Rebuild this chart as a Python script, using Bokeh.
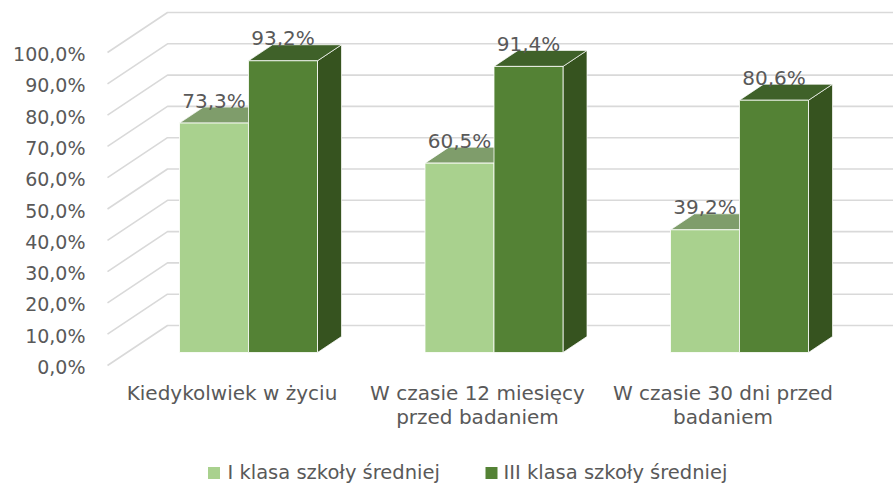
from bokeh.plotting import figure
from bokeh.models import Range1d
from bokeh.core.properties import value
from bokeh.embed import file_html
from bokeh.resources import INLINE

# ---------------- data ----------------
categories = ["Kiedykolwiek w życiu",
              "W czasie 12 miesięcy\nprzed badaniem",
              "W czasie 30 dni przed\nbadaniem"]
series_names = ["I klasa szkoły średniej", "III klasa szkoły średniej"]
values_klasa_i = [73.3, 60.5, 39.2]
values_klasa_iii = [93.2, 91.4, 80.6]
y_ticks = [0, 10, 20, 30, 40, 50, 60, 70, 80, 90, 100]
y_tick_labels = ["0,0%", "10,0%", "20,0%", "30,0%", "40,0%", "50,0%",
                 "60,0%", "70,0%", "80,0%", "90,0%", "100,0%"]

# ---------------- style / layout ----------------
W, H = 893, 485
M = 0                 # canvas origin in picture pixels
PX_X = 245.5          # pixels per category step
PX_Y = 3.13           # pixels per percent
CAT0_PX = 228.5       # picture x of first category (front plane)
ZERO_PY = 365         # picture y of 0 % (front plane)
FONT = value("DejaVu Sans")
TXT = "#595959"
GRID = "#D9D9D9"
BAR_W_PX = 69
BAR_D0, BAR_D1, WALL_D = 13, 29, 40

colors = [
    dict(front="#A9D18E", top="#7F9D6B", side="#6E8C5A"),
    dict(front="#548235", top="#3F6129", side="#36531F"),
]

x_start = -(CAT0_PX - M) / PX_X
x_end = x_start + W / PX_X
y_end = (ZERO_PY - M) / PX_Y
y_start = y_end - H / PX_Y


def px_to_x(px):
    return x_start + (px - M) / PX_X


def py_to_y(py):
    return y_end - (py - M) / PX_Y


def depth(x, y, d):
    return x + 1.5 * d / PX_X, y + d / PX_Y


p = figure(width=W, height=H, x_range=Range1d(x_start, x_end),
           y_range=Range1d(y_start, y_end), output_backend="svg",
           toolbar_location=None, min_border=0,
           x_axis_location=None, y_axis_location=None)
p.grid.visible = False
p.outline_line_color = None
p.background_fill_color = "white"
p.border_fill_color = "white"

# ---------------- gridlines (3D walls) ----------------
gxs, gys = [], []
for t in y_ticks:
    xa = px_to_x(107)
    xb, yb = depth(xa, t, WALL_D)
    gxs.append([xa, xb, x_end + 1])
    gys.append([t, yb, yb])
p.multi_line(gxs, gys, line_color=GRID, line_width=1.6)

# ---------------- bars ----------------
bw = BAR_W_PX / PX_X
label_x, label_y, label_t = [], [], []
for s, vals in enumerate([values_klasa_i, values_klasa_iii]):
    c = colors[s]
    fl, fr, fb, ft = [], [], [], []
    txs, tys, sxs, sys_ = [], [], [], []
    for i, v in enumerate(vals):
        xl = i + (s - 1) * bw
        xr = xl + bw
        x0, y0 = depth(xl, 0, BAR_D0)
        x1, y1 = depth(xr, v, BAR_D0)
        fl.append(x0); fr.append(x1); fb.append(y0); ft.append(y1)
        a = depth(xl, v, BAR_D0); b = depth(xr, v, BAR_D0)
        cc = depth(xr, v, BAR_D1); dd = depth(xl, v, BAR_D1)
        txs.append([a[0], b[0], cc[0], dd[0]]); tys.append([a[1], b[1], cc[1], dd[1]])
        e = depth(xr, 0, BAR_D0); f = depth(xr, 0, BAR_D1)
        sxs.append([e[0], b[0], cc[0], f[0]]); sys_.append([e[1], b[1], cc[1], f[1]])
        label_x.append((x0 + x1) / 2)
        label_y.append(v + (BAR_D1 + 6.5) / PX_Y)
        label_t.append(f"{v:.1f}".replace(".", ",") + "%")
    p.patches(sxs, sys_, fill_color=c["side"], line_color="white", line_width=1, line_alpha=0.7)
    p.patches(txs, tys, fill_color=c["top"], line_color="white", line_width=1, line_alpha=0.7)
    p.quad(left=fl, right=fr, bottom=fb, top=ft, fill_color=c["front"],
           line_color="white", line_width=1, line_alpha=0.8)

# ---------------- data labels ----------------
p.text(x=label_x, y=label_y, text=label_t, text_align="center",
       text_baseline="middle", text_font=FONT, text_font_size="20px",
       text_color=TXT)

# ---------------- y tick labels ----------------
p.text(x=[px_to_x(85)] * len(y_ticks), y=[t - 1.5 / PX_Y for t in y_ticks],
       text=y_tick_labels, text_align="right", text_baseline="middle",
       text_font=FONT, text_font_size="19px", text_color=TXT)

# ---------------- category labels ----------------
cx, cy, ct = [], [], []
for i, cat in enumerate(categories):
    for j, line in enumerate(cat.split("\n")):
        cx.append(i + 3 / PX_X)
        cy.append(-(27 + 24.5 * j) / PX_Y)
        ct.append(line)
p.text(x=cx, y=cy, text=ct, text_align="center", text_baseline="middle",
       text_font=FONT, text_font_size="20px", text_color=TXT)

# ---------------- legend ----------------
leg_sq_px = [213.5, 491]
leg_tx_px = [227, 503]
p.rect(x=[px_to_x(v) for v in leg_sq_px], y=[py_to_y(472.5)] * 2,
       width=12, height=12, width_units="screen", height_units="screen",
       fill_color=[colors[0]["front"], colors[1]["front"]], line_color=None)
p.text(x=[px_to_x(v) for v in leg_tx_px], y=[py_to_y(471.5)] * 2,
       text=series_names, text_align="left", text_baseline="middle",
       text_font=FONT, text_font_size="19.5px", text_color=TXT)

open("out.html", "w").write(file_html(p, INLINE))
